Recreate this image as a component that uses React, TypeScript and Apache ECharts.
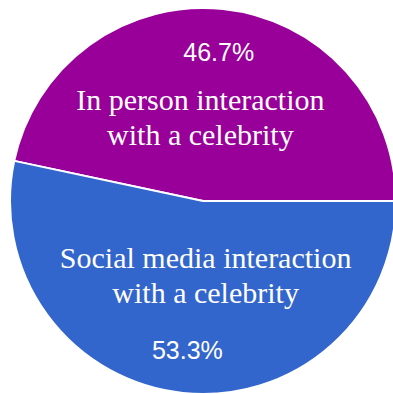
import React, { useEffect, useRef } from "react";
import * as echarts from "echarts";

const categories = [
  "In person interaction\nwith a celebrity",
  "Social media interaction\nwith a celebrity",
];
const counts = [7, 8];
const colors = ["#990099", "#3366cc"];

export default function App() {
  const ref = useRef<HTMLDivElement>(null);
  useEffect(() => {
    if (!ref.current) return;
    const chart = echarts.init(ref.current, undefined, { renderer: "svg" });
    const total = counts.reduce((a, b) => a + b, 0);
    const startAngle = (counts[0] / total) * 360;
    const data = categories.map((name, i) => ({
      name,
      value: counts[i],
      itemStyle: { color: colors[i] },
    }));
    const transparentData = categories.map((name, i) => ({
      name,
      value: counts[i],
      itemStyle: { color: "rgba(0,0,0,0)", borderWidth: 0 },
    }));
    const center = [203, 201];
    const nameOffsets = [
      [-11, -4],
      [11, -6],
    ];
    chart.setOption({
      animation: false,
      series: [
        {
          type: "pie",
          center,
          radius: 193,
          startAngle,
          clockwise: true,
          silent: true,
          label: { show: false },
          labelLine: { show: false },
          itemStyle: { borderColor: "#ffffff", borderWidth: 2 },
          data,
        },
        {
          type: "pie",
          center,
          radius: [101, 193],
          startAngle,
          clockwise: true,
          silent: true,
          percentPrecision: 1,
          label: {
            show: true,
            position: "inside",
            formatter: "{d}%",
            color: "#ffffff",
            fontFamily: "Liberation Sans, Arial, sans-serif",
            fontSize: 25,
          },
          labelLine: { show: false },
          data: transparentData,
        },
        {
          type: "pie",
          center,
          radius: [0, 154],
          startAngle,
          clockwise: true,
          silent: true,
          label: {
            show: true,
            position: "inside",
            formatter: "{b}",
            color: "#ffffff",
            fontFamily: "Liberation Serif, Times New Roman, serif",
            fontSize: 30,
            lineHeight: 35,
            align: "center",
          },
          labelLayout: (p: any) => ({
            dx: nameOffsets[p.dataIndex][0],
            dy: nameOffsets[p.dataIndex][1],
          }),
          labelLine: { show: false },
          data: transparentData,
        },
      ],
    });
    return () => chart.dispose();
  }, []);
  return (
    <div
      ref={ref}
      style={{ position: "fixed", left: 0, top: 0, width: 393, height: 394, background: "#ffffff" }}
    />
  );
}
